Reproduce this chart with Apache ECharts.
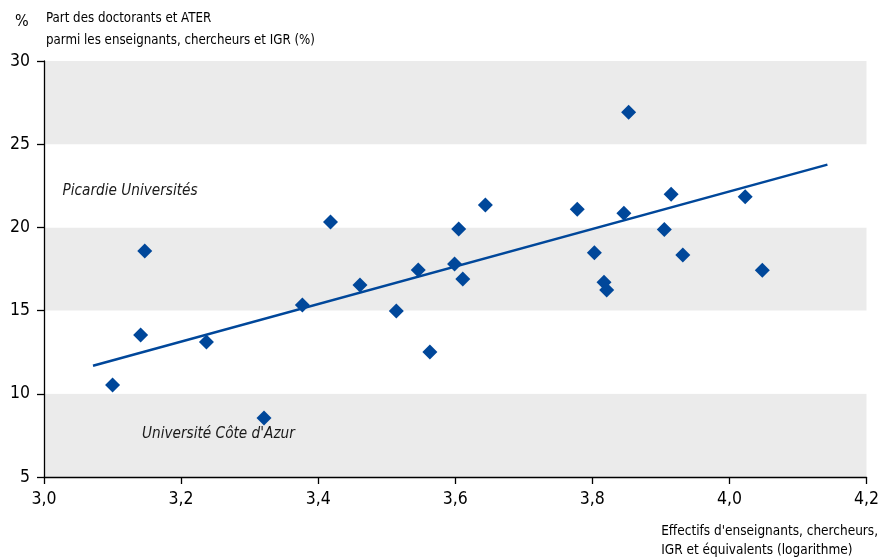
<!DOCTYPE html>
<html><head><meta charset="utf-8">
<script src="https://cdn.jsdelivr.net/npm/echarts@6/dist/echarts.min.js"></script>
<style>html,body{margin:0;padding:0;background:#fff}#c{width:882px;height:557px}</style>
</head><body><div id="c"></div>
<script>
var xValues = [3.100,3.141,3.147,3.237,3.321,3.377,3.418,3.461,3.514,3.546,3.563,3.599,3.605,3.611,3.644,3.778,3.803,3.817,3.821,3.853,3.846,3.915,3.905,3.932,4.023,4.048];
var yValues = [10.53,13.53,18.58,13.11,8.54,15.33,20.32,16.54,14.97,17.44,12.51,17.80,19.90,16.90,21.35,21.09,18.48,16.70,16.24,26.92,20.85,21.99,19.88,18.34,21.84,17.42];
var trendX = [3.0715, 4.143];
var trendY = [11.69, 23.77];
var annotNames = ["Picardie Universités", "Université Côte d'Azur"];
var annotX = [3.027, 3.143];
var annotY = [22.2, 7.6];
var xTicks = [3.0,3.2,3.4,3.6,3.8,4.0,4.2];
var yTicks = [5,10,15,20,25,30];

var FONT = "'Liberation Sans Narrow','DejaVu Sans Condensed',sans-serif";
var BLUE = '#00479a';
var pts = xValues.map(function(x,i){return [x, yValues[i]];});
var chart = echarts.init(document.getElementById('c'));
chart.setOption({
  animation:false,
  grid:{left:44,right:11,top:61,bottom:80},
  xAxis:{type:'value',min:xTicks[0],max:xTicks[xTicks.length-1],interval:0.2,
    axisLine:{lineStyle:{color:'#000',width:1.3}},
    axisTick:{show:true,length:7,lineStyle:{color:'#000',width:1.3}},
    axisLabel:{color:'#000',fontFamily:FONT,fontSize:17.5,margin:13,
      formatter:function(v){return v.toFixed(1).replace('.',',');}},
    splitLine:{show:false}},
  yAxis:{type:'value',min:yTicks[0],max:yTicks[yTicks.length-1],interval:5,
    axisLine:{show:true,lineStyle:{color:'#000',width:1.3}},
    axisTick:{show:true,length:7,lineStyle:{color:'#000',width:1.3}},
    axisLabel:{color:'#000',fontFamily:FONT,fontSize:17.5,margin:14},
    splitLine:{show:false},
    splitArea:{show:true,areaStyle:{color:['#ebebeb','#ffffff']}}},
  graphic:[
    {type:'text',left:15,top:14,style:{text:'%',font:'16px '+FONT,fill:'#000'}},
    {type:'text',left:46,top:8,style:{text:'Part des doctorants et ATER\nparmi les enseignants, chercheurs et IGR (%)',font:'13.2px '+FONT,fill:'#000',lineHeight:22}},
    {type:'text',right:4,top:522,style:{text:"Effectifs d'enseignants, chercheurs,\nIGR et équivalents (logarithme)",font:'13.5px '+FONT,fill:'#000',lineHeight:19,align:'right'}}
  ],
  series:[
    {type:'line',data:trendX.map(function(x,i){return [x,trendY[i]];}),symbol:'none',
      lineStyle:{color:BLUE,width:2.5},z:2},
    {type:'scatter',data:pts,symbol:'diamond',symbolSize:15,itemStyle:{color:BLUE,opacity:1},z:3},
    {type:'scatter',data:annotNames.map(function(n,i){return {name:n,value:[annotX[i],annotY[i]]};}),
      symbolSize:0,silent:true,itemStyle:{opacity:1},
      label:{show:true,position:'right',distance:0,formatter:'{b}',fontFamily:FONT,fontStyle:'italic',fontSize:15.2,color:'#1a1a1a'}}
  ]
});
</script></body></html>
